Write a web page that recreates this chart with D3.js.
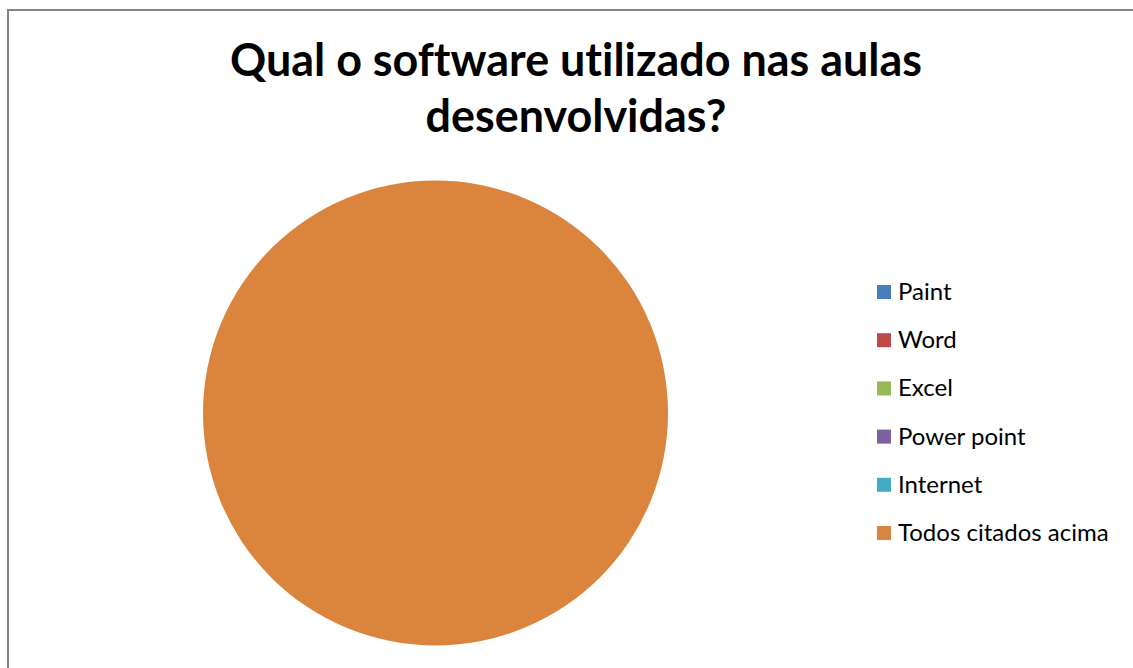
<!DOCTYPE html>
<html lang="pt">
<head>
	<meta charset="utf-8" />
	<title>Qual o software utilizado nas aulas desenvolvidas?</title>
	<script src="https://d3js.org/d3.v7.min.js"></script>
    <style>
        body {
            margin: 0;
            background: white;
        }
        svg {
            display: block;
        }
        text {
            font-variant-ligatures: none;
        }
    </style>
</head>
<body>
	<script>
    // data
    let titleLines = ["Qual o software utilizado nas aulas", "desenvolvidas?"];
    let softwares = ["Paint", "Word", "Excel", "Power point", "Internet", "Todos citados acima"];
    let answers = [0, 0, 0, 0, 0, 100];
    let colors = ["#4A7EBB", "#BE4B48", "#98B954", "#7D60A0", "#46AAC5", "#DB843D"];

    let width = 1133, height = 668;

    let svg = d3.select("body")
        .append("svg")
        .attr("width", width)
        .attr("height", height);

    // chart border (right and bottom edges fall outside the picture)
    svg.append("rect")
        .attr("x", 8)
        .attr("y", 10)
        .attr("width", width + 10)
        .attr("height", height + 10)
        .attr("fill", "white")
        .attr("stroke", "#868686")
        .attr("stroke-width", 2);

    // title, fitted to the width of the original
    let title = svg.append("g");
    title.selectAll("text")
        .data(titleLines)
        .enter()
        .append("text")
        .text(function(d) { return d; })
        .attr("x", 576)
        .attr("y", function(d, i) { return 76 + i * 56; })
        .attr("text-anchor", "middle")
        .attr("font-family", "Lato, 'Open Sans', sans-serif")
        .attr("font-weight", "bold")
        .attr("font-size", 45)
        .attr("fill", "black");
    let firstWidth = title.select("text").node().getComputedTextLength();
    title.selectAll("text").attr("font-size", Math.min(46, 45 * 692 / firstWidth));

    // pie
    let color = d3.scaleOrdinal().domain(softwares).range(colors);
    let pie = d3.pie().sort(null).value(function(d, i) { return answers[i]; });
    let arc = d3.arc().innerRadius(0).outerRadius(232.5);

    svg.append("g")
        .attr("transform", "translate(435.5,413)")
        .selectAll("path")
        .data(pie(softwares))
        .enter()
        .append("path")
        .attr("d", arc)
        .attr("fill", function(d) { return color(d.data); });

    // legend
    let rowY = d3.scalePoint().domain(softwares).range([292, 533]);

    let legend = svg.append("g");
    let rows = legend.selectAll("g")
        .data(softwares)
        .enter()
        .append("g")
        .attr("transform", function(d) { return "translate(877," + rowY(d) + ")"; });

    rows.append("rect")
        .attr("x", 0)
        .attr("y", -7)
        .attr("width", 14)
        .attr("height", 14)
        .attr("fill", function(d) { return color(d); });

    rows.append("text")
        .text(function(d) { return d; })
        .attr("x", 21)
        .attr("y", 8)
        .attr("font-family", "Lato, 'Open Sans', sans-serif")
        .attr("font-size", 22)
        .attr("fill", "black");

    // legend text fitted to the longest label of the original
    let longest = rows.filter(function(d, i) { return i === softwares.length - 1; })
        .select("text").node().getComputedTextLength();
    rows.selectAll("text").attr("font-size", Math.min(24, 22 * 218 / longest));
	</script>
</body>
</html>
